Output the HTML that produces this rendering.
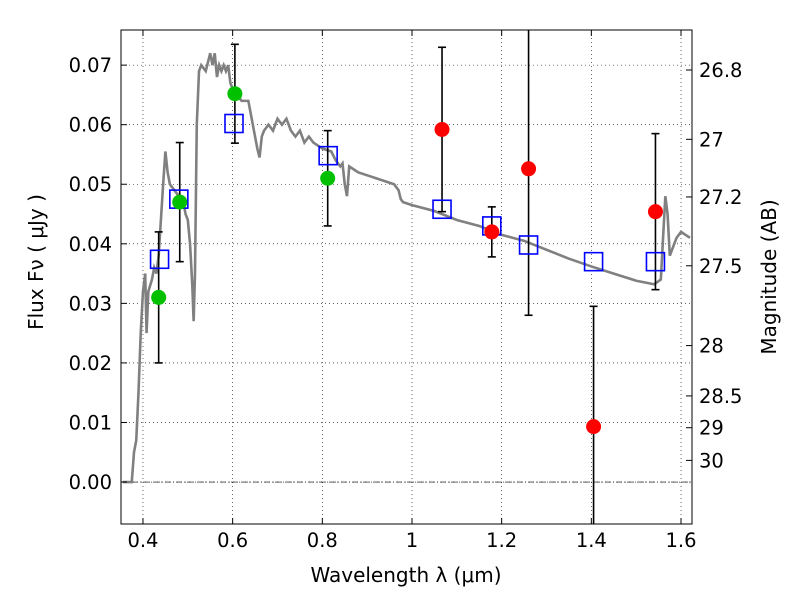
<!DOCTYPE html>
<html><head><meta charset="utf-8"><style>
body{margin:0;background:#fff;font-family:"DejaVu Sans","Liberation Sans",sans-serif}
svg text{font-family:"DejaVu Sans","Liberation Sans",sans-serif}
</style></head><body>
<svg id="c" width="800" height="600" xmlns="http://www.w3.org/2000/svg"></svg>
<script>
const xTicks=[0.4,0.6,0.8,1.0,1.2,1.4,1.6];
const xTickLabels=["0.4","0.6","0.8","1","1.2","1.4","1.6"];
const yTicks=[0,0.01,0.02,0.03,0.04,0.05,0.06,0.07];
const yTickLabels=["0.00","0.01","0.02","0.03","0.04","0.05","0.06","0.07"];
const magTicks=[26.8,27,27.2,27.5,28,28.5,29,30];
const magLabels=["26.8","27","27.2","27.5","28","28.5","29","30"];
const sedX=[0.355,0.37,0.375,0.38,0.385,0.39,0.395,0.40,0.405,0.408,0.412,0.42,0.425,0.43,0.435,0.44,0.445,0.45,0.455,0.46,0.47,0.48,0.49,0.495,0.50,0.505,0.51,0.513,0.516,0.52,0.525,0.53,0.54,0.55,0.555,0.56,0.565,0.57,0.575,0.58,0.585,0.59,0.595,0.60,0.62,0.635,0.64,0.645,0.65,0.655,0.66,0.665,0.67,0.68,0.69,0.70,0.71,0.72,0.73,0.74,0.75,0.76,0.77,0.78,0.79,0.80,0.82,0.83,0.84,0.845,0.85,0.855,0.86,0.87,0.88,0.90,0.92,0.94,0.96,0.97,0.975,0.98,1.0,1.05,1.1,1.15,1.2,1.25,1.3,1.35,1.4,1.45,1.5,1.54,1.555,1.565,1.57,1.575,1.58,1.59,1.6,1.62];
const sedY=[0,0,0,0.005,0.007,0.015,0.025,0.032,0.035,0.025,0.032,0.034,0.036,0.035,0.038,0.044,0.050,0.0555,0.052,0.050,0.049,0.048,0.047,0.045,0.044,0.040,0.033,0.027,0.035,0.060,0.069,0.070,0.069,0.072,0.070,0.072,0.068,0.070,0.069,0.070,0.069,0.070,0.067,0.066,0.064,0.064,0.062,0.060,0.058,0.056,0.0545,0.058,0.059,0.060,0.059,0.061,0.060,0.061,0.059,0.058,0.059,0.057,0.058,0.057,0.0565,0.056,0.0555,0.054,0.053,0.0535,0.050,0.048,0.053,0.0525,0.052,0.0515,0.051,0.0505,0.050,0.049,0.0475,0.047,0.0465,0.0455,0.044,0.043,0.0415,0.0405,0.039,0.0375,0.0362,0.035,0.0338,0.0332,0.034,0.048,0.045,0.038,0.039,0.041,0.042,0.041];
const greenX=[0.435,0.482,0.605,0.812];
const greenY=[0.031,0.047,0.0652,0.051];
const greenErr=[0.011,0.010,0.0083,0.008];
const redX=[1.067,1.178,1.26,1.405,1.543];
const redY=[0.0592,0.042,0.0526,0.0093,0.0454];
const redErr=[0.0138,0.0042,0.0246,0.0202,0.0131];
const modelX=[0.437,0.48,0.603,0.813,1.067,1.178,1.26,1.405,1.543];
const modelY=[0.0374,0.0475,0.0602,0.0548,0.0458,0.0430,0.0398,0.0370,0.0370];

const L=121,R=692,T=30,B=524,X0=0.351,X1=1.6245,Y0=-0.00705,Y1=0.0759;
const sx=v=>L+(v-X0)/(X1-X0)*(R-L);
const sy=v=>B-(v-Y0)/(Y1-Y0)*(B-T);
const svg=document.getElementById('c');
const NS="http://www.w3.org/2000/svg";
function mk(tag,attrs,name,txt){const e=document.createElementNS(NS,tag);for(const k in attrs)e.setAttribute(k,attrs[k]);


if(txt!==undefined)e.textContent=txt;svg.appendChild(e);return e;}
const clip=document.createElementNS(NS,'clipPath');clip.setAttribute('id','pc');
const cr=document.createElementNS(NS,'rect');cr.setAttribute('x',L);cr.setAttribute('y',T);cr.setAttribute('width',R-L);cr.setAttribute('height',B-T);clip.appendChild(cr);svg.appendChild(clip);
xTicks.forEach(v=>mk('line',{x1:sx(v),x2:sx(v),y1:T,y2:B,stroke:'#000','stroke-width':0.6,'stroke-dasharray':'1,3'},'x-grid-line'));
yTicks.forEach(v=>mk('line',{x1:L,x2:R,y1:sy(v),y2:sy(v),stroke:'#000','stroke-width':0.6,'stroke-dasharray':'1,3'},'y-grid-line'));
mk('line',{x1:L,x2:R,y1:sy(0),y2:sy(0),stroke:'#000','stroke-width':0.6,'stroke-dasharray':'6,2,1,2'},'zero-line');
mk('polyline',{points:sedX.map((x,i)=>sx(x)+','+sy(sedY[i])).join(' '),fill:'none',stroke:'#808080','stroke-width':2.6,'clip-path':'url(#pc)'},'sed-model-line');
function pts(xs,ys,es,nm){xs.forEach((x,i)=>{
 mk('line',{x1:sx(x),x2:sx(x),y1:sy(ys[i]-es[i]),y2:sy(ys[i]+es[i]),stroke:'#000','stroke-width':1.6,'clip-path':'url(#pc)'},nm+'-errorbar');
 [ys[i]-es[i],ys[i]+es[i]].forEach(v=>mk('line',{x1:sx(x)-4,x2:sx(x)+4,y1:sy(v),y2:sy(v),stroke:'#000','stroke-width':1.6,'clip-path':'url(#pc)'},nm+'-errorcap'));
});}
pts(greenX,greenY,greenErr,'green');
pts(redX,redY,redErr,'red');
modelX.forEach((x,i)=>mk('rect',{x:sx(x)-9,y:sy(modelY[i])-9,width:18,height:18,fill:'none',stroke:'#0000ff','stroke-width':1.6},'model-flux-square'));
greenX.forEach((x,i)=>mk('circle',{cx:sx(x),cy:sy(greenY[i]),r:7.5,fill:'#00c000'},'green-photometry-point'));
redX.forEach((x,i)=>mk('circle',{cx:sx(x),cy:sy(redY[i]),r:7.5,fill:'#ff0000'},'red-photometry-point'));
mk('rect',{x:L,y:T,width:R-L,height:B-T,fill:'none',stroke:'#000','stroke-width':1},'plot-frame');
xTicks.forEach((v,i)=>{mk('line',{x1:sx(v),x2:sx(v),y1:B,y2:B-6,stroke:'#000'},'x-tick');mk('line',{x1:sx(v),x2:sx(v),y1:T,y2:T+6,stroke:'#000'},'x-tick-top');
 mk('text',{x:sx(v),y:B+23,'font-size':19.5,'text-anchor':'middle'},'x-tick-label',xTickLabels[i]);});
yTicks.forEach((v,i)=>{mk('line',{x1:L,x2:L+6,y1:sy(v),y2:sy(v),stroke:'#000'},'y-tick');
 mk('text',{x:L-9,y:sy(v)+7,'font-size':19.5,'text-anchor':'end'},'y-tick-label',yTickLabels[i]);});
magTicks.forEach((m,i)=>{const f=Math.pow(10,(23.9-m)/2.5);const y=sy(f);
 mk('line',{x1:R,x2:R-6,y1:y,y2:y,stroke:'#000'},'mag-tick');
 mk('text',{x:R+7,y:y+7,'font-size':19.5},'mag-tick-label',magLabels[i]);});
mk('text',{x:406,y:582,'font-size':20,'text-anchor':'middle'},'x-axis-title','Wavelength  λ (μm)');
mk('text',{x:0,y:0,'font-size':20,'text-anchor':'middle',transform:'translate(43,262) rotate(-90)'},'y-axis-title','Flux  Fν  ( μJy )');
mk('text',{x:0,y:0,'font-size':20,'text-anchor':'middle',transform:'translate(776,277) rotate(-90)'},'right-axis-title','Magnitude (AB)');
</script>
</body></html>
